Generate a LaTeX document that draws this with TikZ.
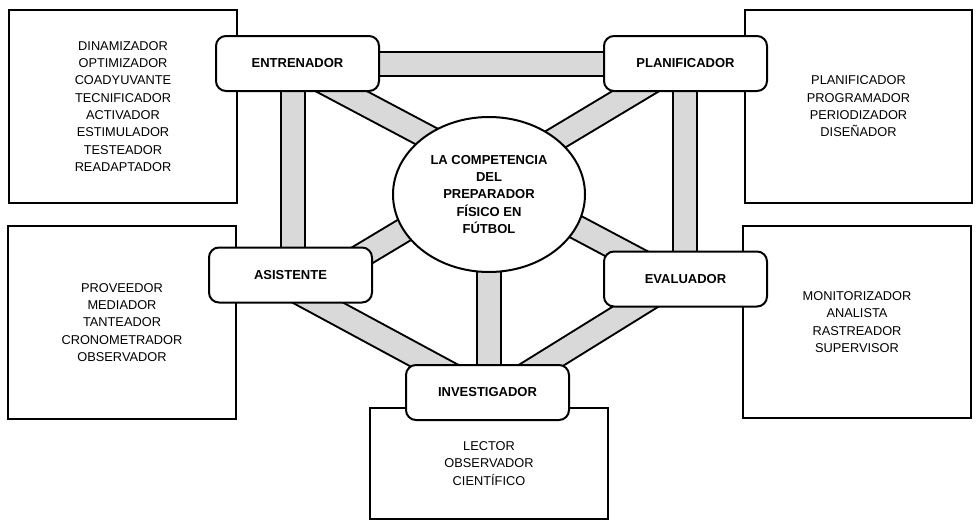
\documentclass[tikz,border=0pt]{standalone}
\usepackage{fontspec}
\setmainfont{Liberation Sans}
\usepackage{tikz}
\usetikzlibrary{shapes.geometric,backgrounds}
\definecolor{bandgray}{RGB}{217,217,217}

\begin{document}
\begin{tikzpicture}[x=1pt,y=-1pt,
	role/.style={draw,fill=white,line width=2pt,rounded corners=10pt,minimum width=163pt,minimum height=55pt,inner sep=0pt,font=\fontsize{13}{15}\selectfont\bfseries},
	listbox/.style={draw,line width=1.8pt,align=center,minimum width=228pt,inner sep=0pt,font=\fontsize{12.8}{17.3}\selectfont},
	band/.style={draw=black,line width=2pt,double=bandgray,double distance=22pt}]
	\useasboundingbox (0,0) rectangle (977,525);
	\node[listbox,minimum height=193pt] (entlist) at (123,106.5) {DINAMIZADOR\\OPTIMIZADOR\\COADYUVANTE\\TECNIFICADOR\\ACTIVADOR\\ESTIMULADOR\\TESTEADOR\\READAPTADOR};
	\node[listbox,minimum height=193pt] (asilist) at (122,322.5) {PROVEEDOR\\MEDIADOR\\TANTEADOR\\CRONOMETRADOR\\OBSERVADOR};
	\node[listbox,minimum width=238pt,minimum height=111pt] (invlist) at (489,463.5) {LECTOR\\OBSERVADOR\\CIENTÍFICO};
	\node[listbox,minimum width=227pt,minimum height=193pt] (plalist) at (858.5,106.5) {PLANIFICADOR\\PROGRAMADOR\\PERIODIZADOR\\DISEÑADOR};
	\node[listbox,minimum height=192pt] (evalist) at (857,322) {MONITORIZADOR\\ANALISTA\\RASTREADOR\\SUPERVISOR};
	\node[role] (ent) at (297.5,63.5) {ENTRENADOR};
	\node[role] (pla) at (685.5,63.5) {PLANIFICADOR};
	\node[role] (asi) at (290.5,275) {ASISTENTE};
	\node[role] (eva) at (685.5,279) {EVALUADOR};
	\node[role] (inv) at (487.5,392.5) {INVESTIGADOR};
	\node[ellipse,draw,fill=white,line width=2pt,minimum width=192pt,minimum height=155pt,inner sep=0pt,align=center,font=\fontsize{13}{17.3}\selectfont\bfseries] (ell) at (489,194.5) {LA COMPETENCIA\\DEL\\PREPARADOR\\FÍSICO EN\\FÚTBOL};
	\begin{scope}[on background layer]
		\draw[band] (ent.center) -- (pla.center);
		\draw[band] ([xshift=-4.5pt]ent.center) -- ([xshift=-4.5pt]ent.center |- asi.center);
		\draw[band] ([xshift=-1pt]pla.center) -- ([xshift=-1pt]pla.center |- eva.center);
		\draw[band] (ell.center) -- (ell.center |- inv.center);
		\draw[band] ([yshift=-4.5pt]ent.center) -- ([yshift=25pt]ell.center);
		\draw[band] ([yshift=13.8pt]ell.center) -- ([yshift=-6pt]eva.center);
		\draw[band] ([yshift=2.2pt]pla.center) -- ([xshift=49.5pt,yshift=6.4pt]asi.center);
		\draw[band] ([yshift=-12.9pt]asi.center) -- ([yshift=-1.8pt]inv.center);
		\draw[band] ([yshift=3.3pt]eva.center) -- ([yshift=-6pt]inv.center);
	\end{scope}
\end{tikzpicture}
\end{document}
